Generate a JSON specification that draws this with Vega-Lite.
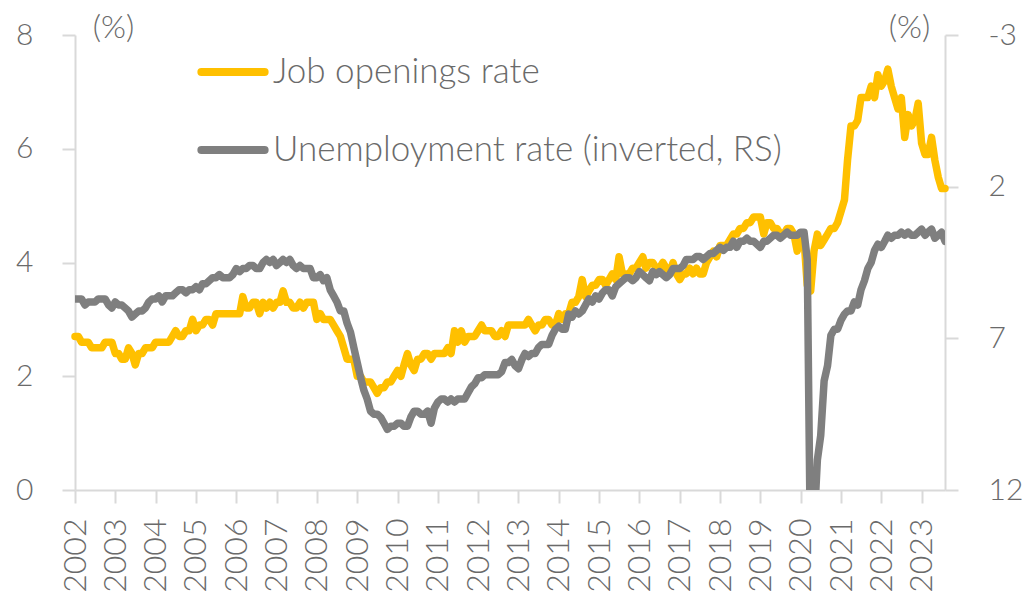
{
"$schema":"https://vega.github.io/schema/vega-lite/v6.json",
"width":870,"height":455,
"autosize":{"type":"none"},
"padding":{"left":75,"top":35,"right":83,"bottom":105},
"background":"#ffffff",
"config":{"view":{"stroke":null},"font":"Lato",
"axis":{"labelFont":"Lato","titleFont":"Lato","labelFontWeight":300,"titleFontWeight":300,"labelColor":"#6a6a6a","titleColor":"#6a6a6a","domainColor":"#d9d9d9","tickColor":"#d9d9d9","domainWidth":2,"tickWidth":2,"grid":false},
"legend":{"labelFont":"Lato","labelFontWeight":300}},
"data":{"values":[
{"d":"2002-01","jo":2.7,"ur":5.7},{"d":"2002-02","jo":2.7,"ur":5.7},{"d":"2002-03","jo":2.6,"ur":5.7},{"d":"2002-04","jo":2.6,"ur":5.9},{"d":"2002-05","jo":2.6,"ur":5.8},{"d":"2002-06","jo":2.5,"ur":5.8},{"d":"2002-07","jo":2.5,"ur":5.8},{"d":"2002-08","jo":2.5,"ur":5.7},{"d":"2002-09","jo":2.5,"ur":5.7},{"d":"2002-10","jo":2.6,"ur":5.7},{"d":"2002-11","jo":2.6,"ur":5.9},{"d":"2002-12","jo":2.6,"ur":6.0},
{"d":"2003-01","jo":2.4,"ur":5.8},{"d":"2003-02","jo":2.4,"ur":5.9},{"d":"2003-03","jo":2.3,"ur":5.9},{"d":"2003-04","jo":2.3,"ur":6.0},{"d":"2003-05","jo":2.5,"ur":6.1},{"d":"2003-06","jo":2.4,"ur":6.3},{"d":"2003-07","jo":2.2,"ur":6.2},{"d":"2003-08","jo":2.4,"ur":6.1},{"d":"2003-09","jo":2.4,"ur":6.1},{"d":"2003-10","jo":2.5,"ur":6.0},{"d":"2003-11","jo":2.5,"ur":5.8},{"d":"2003-12","jo":2.5,"ur":5.7},
{"d":"2004-01","jo":2.6,"ur":5.7},{"d":"2004-02","jo":2.6,"ur":5.6},{"d":"2004-03","jo":2.6,"ur":5.8},{"d":"2004-04","jo":2.6,"ur":5.6},{"d":"2004-05","jo":2.6,"ur":5.6},{"d":"2004-06","jo":2.7,"ur":5.6},{"d":"2004-07","jo":2.8,"ur":5.5},{"d":"2004-08","jo":2.7,"ur":5.4},{"d":"2004-09","jo":2.7,"ur":5.4},{"d":"2004-10","jo":2.8,"ur":5.5},{"d":"2004-11","jo":2.8,"ur":5.4},{"d":"2004-12","jo":3.0,"ur":5.4},
{"d":"2005-01","jo":2.8,"ur":5.3},{"d":"2005-02","jo":2.9,"ur":5.4},{"d":"2005-03","jo":2.9,"ur":5.2},{"d":"2005-04","jo":3.0,"ur":5.2},{"d":"2005-05","jo":3.0,"ur":5.1},{"d":"2005-06","jo":2.9,"ur":5.0},{"d":"2005-07","jo":3.1,"ur":5.0},{"d":"2005-08","jo":3.1,"ur":4.9},{"d":"2005-09","jo":3.1,"ur":5.0},{"d":"2005-10","jo":3.1,"ur":5.0},{"d":"2005-11","jo":3.1,"ur":5.0},{"d":"2005-12","jo":3.1,"ur":4.9},
{"d":"2006-01","jo":3.1,"ur":4.7},{"d":"2006-02","jo":3.1,"ur":4.8},{"d":"2006-03","jo":3.4,"ur":4.7},{"d":"2006-04","jo":3.2,"ur":4.7},{"d":"2006-05","jo":3.2,"ur":4.6},{"d":"2006-06","jo":3.3,"ur":4.6},{"d":"2006-07","jo":3.3,"ur":4.7},{"d":"2006-08","jo":3.1,"ur":4.7},{"d":"2006-09","jo":3.3,"ur":4.5},{"d":"2006-10","jo":3.2,"ur":4.4},{"d":"2006-11","jo":3.3,"ur":4.5},{"d":"2006-12","jo":3.2,"ur":4.4},
{"d":"2007-01","jo":3.3,"ur":4.6},{"d":"2007-02","jo":3.3,"ur":4.5},{"d":"2007-03","jo":3.5,"ur":4.4},{"d":"2007-04","jo":3.3,"ur":4.5},{"d":"2007-05","jo":3.3,"ur":4.4},{"d":"2007-06","jo":3.2,"ur":4.6},{"d":"2007-07","jo":3.2,"ur":4.7},{"d":"2007-08","jo":3.3,"ur":4.6},{"d":"2007-09","jo":3.2,"ur":4.7},{"d":"2007-10","jo":3.3,"ur":4.7},{"d":"2007-11","jo":3.3,"ur":4.7},{"d":"2007-12","jo":3.3,"ur":5.0},
{"d":"2008-01","jo":3.0,"ur":5.0},{"d":"2008-02","jo":3.1,"ur":4.9},{"d":"2008-03","jo":3.0,"ur":5.1},{"d":"2008-04","jo":3.0,"ur":5.0},{"d":"2008-05","jo":3.0,"ur":5.4},{"d":"2008-06","jo":2.9,"ur":5.6},{"d":"2008-07","jo":2.8,"ur":5.8},{"d":"2008-08","jo":2.7,"ur":6.1},{"d":"2008-09","jo":2.5,"ur":6.1},{"d":"2008-10","jo":2.3,"ur":6.5},{"d":"2008-11","jo":2.3,"ur":6.8},{"d":"2008-12","jo":2.3,"ur":7.3},
{"d":"2009-01","jo":2.0,"ur":7.8},{"d":"2009-02","jo":2.0,"ur":8.3},{"d":"2009-03","jo":1.9,"ur":8.7},{"d":"2009-04","jo":1.9,"ur":9.0},{"d":"2009-05","jo":1.9,"ur":9.4},{"d":"2009-06","jo":1.8,"ur":9.5},{"d":"2009-07","jo":1.7,"ur":9.5},{"d":"2009-08","jo":1.8,"ur":9.6},{"d":"2009-09","jo":1.8,"ur":9.8},{"d":"2009-10","jo":1.9,"ur":10.0},{"d":"2009-11","jo":1.9,"ur":9.9},{"d":"2009-12","jo":2.0,"ur":9.9},
{"d":"2010-01","jo":2.1,"ur":9.8},{"d":"2010-02","jo":2.0,"ur":9.8},{"d":"2010-03","jo":2.2,"ur":9.9},{"d":"2010-04","jo":2.4,"ur":9.9},{"d":"2010-05","jo":2.2,"ur":9.6},{"d":"2010-06","jo":2.1,"ur":9.4},{"d":"2010-07","jo":2.3,"ur":9.4},{"d":"2010-08","jo":2.3,"ur":9.5},{"d":"2010-09","jo":2.4,"ur":9.5},{"d":"2010-10","jo":2.4,"ur":9.4},{"d":"2010-11","jo":2.3,"ur":9.8},{"d":"2010-12","jo":2.4,"ur":9.3},
{"d":"2011-01","jo":2.4,"ur":9.1},{"d":"2011-02","jo":2.4,"ur":9.0},{"d":"2011-03","jo":2.4,"ur":9.0},{"d":"2011-04","jo":2.5,"ur":9.1},{"d":"2011-05","jo":2.4,"ur":9.0},{"d":"2011-06","jo":2.8,"ur":9.1},{"d":"2011-07","jo":2.6,"ur":9.0},{"d":"2011-08","jo":2.8,"ur":9.0},{"d":"2011-09","jo":2.6,"ur":9.0},{"d":"2011-10","jo":2.7,"ur":8.8},{"d":"2011-11","jo":2.7,"ur":8.6},{"d":"2011-12","jo":2.7,"ur":8.5},
{"d":"2012-01","jo":2.8,"ur":8.3},{"d":"2012-02","jo":2.9,"ur":8.3},{"d":"2012-03","jo":2.8,"ur":8.2},{"d":"2012-04","jo":2.8,"ur":8.2},{"d":"2012-05","jo":2.8,"ur":8.2},{"d":"2012-06","jo":2.7,"ur":8.2},{"d":"2012-07","jo":2.7,"ur":8.2},{"d":"2012-08","jo":2.8,"ur":8.1},{"d":"2012-09","jo":2.7,"ur":7.8},{"d":"2012-10","jo":2.9,"ur":7.8},{"d":"2012-11","jo":2.9,"ur":7.7},{"d":"2012-12","jo":2.9,"ur":7.9},
{"d":"2013-01","jo":2.9,"ur":8.0},{"d":"2013-02","jo":2.9,"ur":7.7},{"d":"2013-03","jo":2.9,"ur":7.5},{"d":"2013-04","jo":3.0,"ur":7.6},{"d":"2013-05","jo":2.9,"ur":7.5},{"d":"2013-06","jo":2.8,"ur":7.5},{"d":"2013-07","jo":2.9,"ur":7.3},{"d":"2013-08","jo":2.9,"ur":7.2},{"d":"2013-09","jo":3.0,"ur":7.2},{"d":"2013-10","jo":3.0,"ur":7.2},{"d":"2013-11","jo":2.9,"ur":6.9},{"d":"2013-12","jo":2.9,"ur":6.7},
{"d":"2014-01","jo":3.1,"ur":6.6},{"d":"2014-02","jo":3.0,"ur":6.7},{"d":"2014-03","jo":3.1,"ur":6.7},{"d":"2014-04","jo":3.1,"ur":6.2},{"d":"2014-05","jo":3.3,"ur":6.3},{"d":"2014-06","jo":3.3,"ur":6.1},{"d":"2014-07","jo":3.4,"ur":6.2},{"d":"2014-08","jo":3.7,"ur":6.1},{"d":"2014-09","jo":3.4,"ur":5.9},{"d":"2014-10","jo":3.5,"ur":5.7},{"d":"2014-11","jo":3.6,"ur":5.8},{"d":"2014-12","jo":3.6,"ur":5.6},
{"d":"2015-01","jo":3.7,"ur":5.7},{"d":"2015-02","jo":3.7,"ur":5.5},{"d":"2015-03","jo":3.6,"ur":5.4},{"d":"2015-04","jo":3.7,"ur":5.4},{"d":"2015-05","jo":3.8,"ur":5.6},{"d":"2015-06","jo":3.7,"ur":5.3},{"d":"2015-07","jo":4.1,"ur":5.2},{"d":"2015-08","jo":3.8,"ur":5.1},{"d":"2015-09","jo":3.8,"ur":5.0},{"d":"2015-10","jo":3.8,"ur":5.0},{"d":"2015-11","jo":3.9,"ur":5.1},{"d":"2015-12","jo":3.9,"ur":5.0},
{"d":"2016-01","jo":4.0,"ur":4.8},{"d":"2016-02","jo":4.1,"ur":4.9},{"d":"2016-03","jo":3.9,"ur":5.0},{"d":"2016-04","jo":4.0,"ur":5.1},{"d":"2016-05","jo":4.0,"ur":4.8},{"d":"2016-06","jo":3.9,"ur":4.9},{"d":"2016-07","jo":3.9,"ur":4.8},{"d":"2016-08","jo":4.0,"ur":4.9},{"d":"2016-09","jo":3.9,"ur":5.0},{"d":"2016-10","jo":3.8,"ur":4.9},{"d":"2016-11","jo":4.0,"ur":4.7},{"d":"2016-12","jo":3.8,"ur":4.7},
{"d":"2017-01","jo":3.7,"ur":4.7},{"d":"2017-02","jo":3.8,"ur":4.6},{"d":"2017-03","jo":3.8,"ur":4.4},{"d":"2017-04","jo":3.9,"ur":4.4},{"d":"2017-05","jo":3.8,"ur":4.4},{"d":"2017-06","jo":3.9,"ur":4.3},{"d":"2017-07","jo":3.8,"ur":4.3},{"d":"2017-08","jo":3.8,"ur":4.4},{"d":"2017-09","jo":4.0,"ur":4.3},{"d":"2017-10","jo":4.1,"ur":4.2},{"d":"2017-11","jo":4.2,"ur":4.2},{"d":"2017-12","jo":4.1,"ur":4.1},
{"d":"2018-01","jo":4.3,"ur":4.0},{"d":"2018-02","jo":4.3,"ur":4.1},{"d":"2018-03","jo":4.3,"ur":4.0},{"d":"2018-04","jo":4.4,"ur":4.0},{"d":"2018-05","jo":4.5,"ur":3.8},{"d":"2018-06","jo":4.5,"ur":4.0},{"d":"2018-07","jo":4.6,"ur":3.8},{"d":"2018-08","jo":4.6,"ur":3.8},{"d":"2018-09","jo":4.7,"ur":3.7},{"d":"2018-10","jo":4.7,"ur":3.8},{"d":"2018-11","jo":4.8,"ur":3.8},{"d":"2018-12","jo":4.8,"ur":3.9},
{"d":"2019-01","jo":4.8,"ur":4.0},{"d":"2019-02","jo":4.5,"ur":3.8},{"d":"2019-03","jo":4.7,"ur":3.8},{"d":"2019-04","jo":4.7,"ur":3.7},{"d":"2019-05","jo":4.6,"ur":3.6},{"d":"2019-06","jo":4.6,"ur":3.6},{"d":"2019-07","jo":4.5,"ur":3.7},{"d":"2019-08","jo":4.5,"ur":3.6},{"d":"2019-09","jo":4.6,"ur":3.5},{"d":"2019-10","jo":4.6,"ur":3.6},{"d":"2019-11","jo":4.5,"ur":3.6},{"d":"2019-12","jo":4.2,"ur":3.6},
{"d":"2020-01","jo":4.5,"ur":3.5},{"d":"2020-02","jo":4.4,"ur":3.5},{"d":"2020-03","jo":3.6,"ur":4.4},{"d":"2020-04","jo":3.5,"ur":14.8},{"d":"2020-05","jo":4.2,"ur":13.2},{"d":"2020-06","jo":4.5,"ur":11.0},{"d":"2020-07","jo":4.3,"ur":10.2},{"d":"2020-08","jo":4.4,"ur":8.4},{"d":"2020-09","jo":4.5,"ur":7.9},{"d":"2020-10","jo":4.6,"ur":6.9},{"d":"2020-11","jo":4.6,"ur":6.7},{"d":"2020-12","jo":4.7,"ur":6.7},
{"d":"2021-01","jo":4.9,"ur":6.4},{"d":"2021-02","jo":5.1,"ur":6.2},{"d":"2021-03","jo":5.8,"ur":6.1},{"d":"2021-04","jo":6.4,"ur":6.1},{"d":"2021-05","jo":6.4,"ur":5.8},{"d":"2021-06","jo":6.5,"ur":5.9},{"d":"2021-07","jo":6.9,"ur":5.4},{"d":"2021-08","jo":6.9,"ur":5.1},{"d":"2021-09","jo":6.9,"ur":4.7},{"d":"2021-10","jo":7.1,"ur":4.5},{"d":"2021-11","jo":6.9,"ur":4.1},{"d":"2021-12","jo":7.3,"ur":3.9},
{"d":"2022-01","jo":7.1,"ur":4.0},{"d":"2022-02","jo":7.2,"ur":3.8},{"d":"2022-03","jo":7.4,"ur":3.6},{"d":"2022-04","jo":7.1,"ur":3.7},{"d":"2022-05","jo":6.9,"ur":3.6},{"d":"2022-06","jo":6.7,"ur":3.6},{"d":"2022-07","jo":6.9,"ur":3.5},{"d":"2022-08","jo":6.2,"ur":3.6},{"d":"2022-09","jo":6.6,"ur":3.5},{"d":"2022-10","jo":6.4,"ur":3.6},{"d":"2022-11","jo":6.5,"ur":3.6},{"d":"2022-12","jo":6.8,"ur":3.5},
{"d":"2023-01","jo":6.1,"ur":3.4},{"d":"2023-02","jo":5.9,"ur":3.6},{"d":"2023-03","jo":5.9,"ur":3.5},{"d":"2023-04","jo":6.2,"ur":3.4},{"d":"2023-05","jo":5.8,"ur":3.7},{"d":"2023-06","jo":5.5,"ur":3.6},{"d":"2023-07","jo":5.3,"ur":3.5},{"d":"2023-08","jo":5.3,"ur":3.8}
]},
"encoding":{
"x":{"field":"d","type":"temporal",
"scale":{"type":"utc","domain":[{"year":2002,"month":1,"date":1,"utc":true},{"year":2023,"month":8,"date":1,"utc":true}]},
"axis":{"title":null,"format":"%Y","labelAngle":270,"labelFontSize":32,"tickSize":13,"labelPadding":15,"labelFlush":false,"labelOverlap":false,
"values":[{"year":2002,"month":1,"date":1,"utc":true},{"year":2003,"month":1,"date":1,"utc":true},{"year":2004,"month":1,"date":1,"utc":true},{"year":2005,"month":1,"date":1,"utc":true},{"year":2006,"month":1,"date":1,"utc":true},{"year":2007,"month":1,"date":1,"utc":true},{"year":2008,"month":1,"date":1,"utc":true},{"year":2009,"month":1,"date":1,"utc":true},{"year":2010,"month":1,"date":1,"utc":true},{"year":2011,"month":1,"date":1,"utc":true},{"year":2012,"month":1,"date":1,"utc":true},{"year":2013,"month":1,"date":1,"utc":true},{"year":2014,"month":1,"date":1,"utc":true},{"year":2015,"month":1,"date":1,"utc":true},{"year":2016,"month":1,"date":1,"utc":true},{"year":2017,"month":1,"date":1,"utc":true},{"year":2018,"month":1,"date":1,"utc":true},{"year":2019,"month":1,"date":1,"utc":true},{"year":2020,"month":1,"date":1,"utc":true},{"year":2021,"month":1,"date":1,"utc":true},{"year":2022,"month":1,"date":1,"utc":true},{"year":2023,"month":1,"date":1,"utc":true}]}}
},
"layer":[
{"mark":{"type":"line","strokeWidth":7.5,"strokeJoin":"round","strokeCap":"round"},
"encoding":{
"y":{"field":"jo","type":"quantitative","scale":{"domain":[0,8],"nice":false,"zero":false},
"axis":{"orient":"left","values":[0,2,4,6,8],"labelFontSize":30,"tickSize":13,"labelPadding":29,"title":"(%)","titleAngle":0,"titleFontSize":32,"titleX":38,"titleY":2,"titleAlign":"center","titleBaseline":"alphabetic"}},
"color":{"datum":"Job openings rate","type":"nominal","scale":{"domain":["Job openings rate","Unemployment rate (inverted, RS)"],"range":["#FFC000","#7F7F7F"]},
"legend":{"title":null,"orient":"none","legendX":122,"legendY":1,"direction":"vertical","symbolType":"stroke","symbolSize":4000,"symbolStrokeWidth":8,"labelFontSize":35,"labelColor":"#6a6a6a","labelLimit":0,"rowPadding":24,"labelOffset":4,"padding":0,
"encode":{"symbols":{"update":{"strokeCap":{"value":"round"}}}}}}}},
{"mark":{"type":"line","strokeWidth":7.5,"strokeJoin":"round","strokeCap":"round","clip":true},
"encoding":{
"y":{"field":"ur","type":"quantitative","scale":{"domain":[-3,12],"reverse":true,"nice":false,"zero":false},
"axis":{"orient":"right","values":[-3,2,7,12],"labelExpr":"'' + datum.value","labelFontSize":30,"tickSize":13,"labelPadding":30,"title":"(%)","titleAngle":0,"titleFontSize":32,"titleX":-36,"titleY":2,"titleAlign":"center","titleBaseline":"alphabetic"}},
"color":{"datum":"Unemployment rate (inverted, RS)","type":"nominal"}}}
],
"resolve":{"scale":{"y":"independent"},"axis":{"y":"independent"}}
}
